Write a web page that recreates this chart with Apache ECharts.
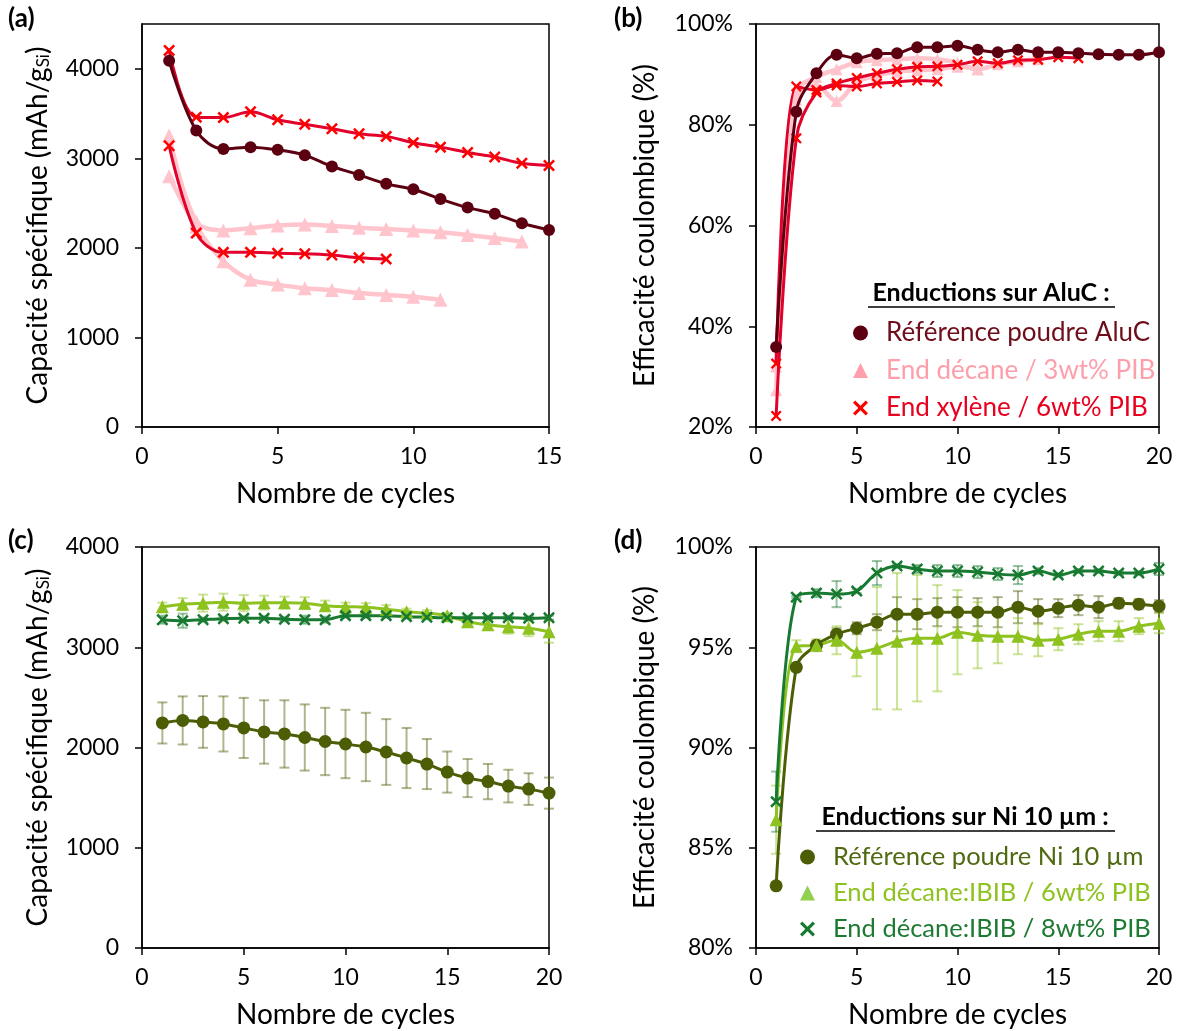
<!DOCTYPE html>
<html><head><meta charset="utf-8">
<script src="https://cdn.jsdelivr.net/npm/echarts@6/dist/echarts.min.js"></script>
<style>html,body{margin:0;padding:0;background:#fff}#c{width:1179px;height:1031px}</style>
</head><body><div id="c"></div>
<script>
// ---------- DATA ----------
// Panel (a): capacité spécifique, AluC
const cycA_ref = [1,2,3,4,5,6,7,8,9,10,11,12,13,14,15];
const capA_ref = [4090,3310,3105,3125,3095,3035,2910,2815,2715,2655,2545,2450,2380,2275,2200];
const cycA_xyl1 = [1,2,3,4,5,6,7,8,9,10,11,12,13,14,15];
const capA_xyl1 = [4205,3460,3455,3520,3430,3380,3330,3275,3245,3175,3125,3065,3015,2945,2920];
const cycA_xyl2 = [1,2,3,4,5,6,7,8,9];
const capA_xyl2 = [3140,2165,1950,1950,1940,1935,1920,1890,1875];
const cycA_dec1 = [1,2,3,4,5,6,7,8,9,10,11,12,13,14];
const capA_dec1 = [3255,2295,2195,2220,2250,2260,2245,2225,2210,2195,2175,2145,2110,2070];
const cycA_dec2 = [1,2,3,4,5,6,7,8,9,10,11];
const capA_dec2 = [2800,2240,1850,1645,1590,1550,1530,1495,1475,1455,1420];

// Panel (b): efficacité coulombique, AluC (%)
const cycB_ref = [1,2,3,4,5,6,7,8,9,10,11,12,13,14,15,16,17,18,19,20];
const ceB_ref = [35.9,82.6,90.2,93.9,93.2,94.1,94.2,95.4,95.4,95.7,94.9,94.4,94.9,94.4,94.4,94.2,94.0,93.9,93.9,94.4];
const cycB_xyl1 = [1,2,3,4,5,6,7,8,9,10,11,12,13,14,15,16];
const ceB_xyl1 = [22.2,77.3,86.4,88.2,89.3,90.2,91.0,91.5,91.6,91.9,92.6,92.2,92.8,92.9,93.4,93.2];
const cycB_xyl2 = [1,2,3,4,5,6,7,8,9];
const ceB_xyl2 = [32.6,87.6,86.9,87.8,87.6,88.2,88.5,88.8,88.6];
const cycB_dec1 = [1,2,3,4,5,6,7,8,9,10,11,12,13,14];
const ceB_dec1 = [32.0,86.5,89.5,91.0,92.4,92.8,93.0,93.2,93.0,92.3,91.0,92.0,92.6,93.0];
const cycB_dec2 = [1,2,3,4,5,6,7,8,9,10,11];
const ceB_dec2 = [27.3,85.0,87.8,84.7,88.5,89.8,90.5,90.8,91.0,91.5,91.0];

// Panel (c): capacité spécifique, Ni 10 µm (moyenne, écart)
const cycNi = [1,2,3,4,5,6,7,8,9,10,11,12,13,14,15,16,17,18,19,20];
const capC_ref = [2245,2270,2255,2235,2195,2155,2135,2100,2060,2035,2005,1955,1895,1835,1755,1695,1660,1615,1585,1545];
const capC_refErr = [205,240,258,275,300,316,336,330,336,341,341,328,300,250,205,190,176,163,158,155];
const capC_6 = [3405,3430,3440,3450,3440,3445,3445,3440,3415,3405,3400,3380,3355,3340,3315,3255,3225,3205,3190,3155];
const capC_6Err = [40,60,85,85,80,70,60,60,50,40,40,40,30,30,30,40,50,70,80,110];
const capC_8 = [3275,3265,3275,3285,3290,3290,3280,3275,3275,3315,3315,3315,3305,3300,3295,3295,3295,3295,3290,3295];
const capC_8Err = [40,70,20,20,20,20,20,40,30,20,20,20,20,20,20,20,20,20,20,20];

// Panel (d): efficacité coulombique, Ni 10 µm (%)
const ceD_ref = [83.1,94.0,95.1,95.65,95.95,96.25,96.65,96.65,96.75,96.75,96.75,96.75,97.0,96.8,96.95,97.1,97.0,97.2,97.15,97.05];
const ceD_refErr = [0.1,0.2,0.2,0.3,0.3,0.4,0.85,0.75,0.7,0.75,0.7,0.75,0.8,0.6,0.45,0.5,0.55,0.25,0.25,0.3];
const ceD_6 = [86.4,95.05,95.1,95.35,94.75,94.95,95.3,95.45,95.45,95.75,95.6,95.55,95.55,95.35,95.4,95.65,95.8,95.8,96.05,96.2];
const ceD_6Err = [1.7,0.3,0.3,0.7,1.2,3.05,3.4,3.15,2.65,2.1,1.65,1.35,0.9,0.8,0.55,0.5,0.5,0.5,0.4,0.5];
const ceD_8 = [87.3,97.5,97.7,97.65,97.8,98.7,99.05,98.9,98.8,98.8,98.75,98.65,98.6,98.8,98.6,98.8,98.8,98.7,98.7,98.9];
const ceD_8Err = [1.5,0.05,0.2,0.65,0.1,0.6,0.1,0.2,0.3,0.3,0.3,0.3,0.45,0.15,0.1,0.1,0.1,0.1,0.1,0.3];

// Tick labels
const capTicksA = [0,1000,2000,3000,4000];
const nameAluRef = 'Référence poudre AluC';
const nameAluDec = 'End décane / 3wt% PIB';
const nameAluXyl = 'End xylène / 6wt% PIB';
const nameNiRef = 'Référence poudre Ni 10 µm';
const nameNi6 = 'End décane:IBIB / 6wt% PIB';
const nameNi8 = 'End décane:IBIB / 8wt% PIB';

// ---------- STYLE ----------
const FF = 'Lato, "Open Sans", sans-serif';
const CROSS = 'path://M0,1.5L1.5,0L5,3.5L8.5,0L10,1.5L6.5,5L10,8.5L8.5,10L5,6.5L1.5,10L0,8.5L3.5,5Z';
const C_REF = '#5c0011', C_DEC = '#ffc4cc', C_XYL_L = '#e3002b', C_XYL_M = '#ff0000';
const C_NIREF = '#4b5e05', C_NI6 = '#8dc21f', C_NI8 = '#187a30';

const zip = (xs, ys) => xs.map((x, i) => [x, ys[i]]);
const zip3 = (xs, ys, es) => xs.map((x, i) => [x, ys[i], es[i]]);

function xAx(grid, max) {
  return {
    type: 'value', gridIndex: grid, min: 0, max: max, interval: 5,
    name: 'Nombre de cycles', nameLocation: 'middle', nameGap: 53,
    nameTextStyle: {fontSize: 28, color: '#000', fontFamily: FF},
    axisLine: {show: true, onZero: false, lineStyle: {color: '#000', width: 1.5}},
    axisTick: {show: true, inside: false, length: 7, lineStyle: {color: '#000', width: 1.5}},
    axisLabel: {fontSize: 23, color: '#000', fontFamily: FF, margin: 18},
    splitLine: {show: false}
  };
}
function yAx(grid, min, max, interval, name, gap, fmt, custom) {
  const o = {
    type: 'value', gridIndex: grid, min: min, max: max, interval: interval,
    name: name, nameLocation: 'middle', nameGap: gap,
    nameTextStyle: {fontSize: 28, color: '#000', fontFamily: FF,
      rich: {sub: {fontSize: 17, fontFamily: FF, color: '#000', verticalAlign: 'bottom', padding: [11, 0, 0, 0]}}},
    axisLine: {show: true, onZero: false, lineStyle: {color: '#000', width: 1.5}},
    axisTick: {show: true, inside: false, length: 7, lineStyle: {color: '#000', width: 1.5}},
    axisLabel: {fontSize: 23, color: '#000', fontFamily: FF, margin: 23, formatter: fmt},
    splitLine: {show: false}
  };
  if (custom) { o.axisTick.customValues = custom; o.axisLabel.customValues = custom; }
  return o;
}
function line(name, xi, yi, data, lineColor, markColor, symbol, size, width, z) {
  return {
    type: 'line', name: name, xAxisIndex: xi, yAxisIndex: yi, data: data,
    smooth: 0.35, symbol: symbol, symbolSize: size, showSymbol: true,
    lineStyle: {color: lineColor, width: width},
    itemStyle: {color: markColor, opacity: 1}, z: z || 3, animation: false
  };
}
function errBars(name, xi, yi, data, color) {
  return {
    type: 'custom', name: name, xAxisIndex: xi, yAxisIndex: yi, data: data, z: 2, animation: false,
    renderItem: function (params, api) {
      const x = api.value(0), y = api.value(1), e = api.value(2);
      const t = api.coord([x, y + e]), b = api.coord([x, y - e]);
      const st = {stroke: color, lineWidth: 2};
      return {type: 'group', children: [
        {type: 'line', shape: {x1: t[0], y1: t[1], x2: b[0], y2: b[1]}, style: st},
        {type: 'line', shape: {x1: t[0] - 5, y1: t[1], x2: t[0] + 5, y2: t[1]}, style: st},
        {type: 'line', shape: {x1: b[0] - 5, y1: b[1], x2: b[0] + 5, y2: b[1]}, style: st}
      ]};
    }
  };
}
const pct = v => v + '%';
const plain = v => String(v);
const capName = 'Capacité spécifique (mAh/g{sub|Si})';
const ceName = 'Efficacité coulombique (%)';

const legendBase = {
  orient: 'vertical', itemWidth: 15, itemHeight: 15, selectedMode: false,
  textStyle: {fontFamily: FF, padding: [0, 0, 0, 13]}
};

const option = {
  backgroundColor: '#fff',
  animation: false,
  grid: [
    {left: 142, top: 24, width: 407, height: 403, show: true, borderColor: '#000', borderWidth: 1.5},
    {left: 756, top: 24, width: 403, height: 403, show: true, borderColor: '#000', borderWidth: 1.5},
    {left: 142, top: 547, width: 407, height: 401, show: true, borderColor: '#000', borderWidth: 1.5},
    {left: 756, top: 547, width: 403, height: 401, show: true, borderColor: '#000', borderWidth: 1.5}
  ],
  xAxis: [xAx(0, 15), xAx(1, 20), xAx(2, 20), xAx(3, 20)],
  yAxis: [
    yAx(0, 0, 4500, 500, capName, 90, plain, capTicksA),
    yAx(1, 20, 100, 20, ceName, 97, pct),
    yAx(2, 0, 4000, 1000, capName, 90, plain),
    yAx(3, 80, 100, 5, ceName, 97, pct)
  ],
  legend: [
    Object.assign({}, legendBase, {left: 848, top: 315, itemGap: 11.5,
      textStyle: Object.assign({}, legendBase.textStyle, {fontSize: 26}),
      data: [
        {name: nameAluRef, icon: 'circle', itemStyle: {color: C_REF}, textStyle: {color: '#6e0e1a'}},
        {name: nameAluDec, icon: 'triangle', itemStyle: {color: '#ff9fab'}, textStyle: {color: '#ff9eab'}},
        {name: nameAluXyl, icon: CROSS, itemStyle: {color: C_XYL_M}, textStyle: {color: '#e8001e'}}
      ]}),
    Object.assign({}, legendBase, {left: 795, top: 839, itemGap: 10,
      textStyle: Object.assign({}, legendBase.textStyle, {fontSize: 25.5}),
      data: [
        {name: nameNiRef, icon: 'circle', itemStyle: {color: C_NIREF}, textStyle: {color: '#4f6a10'}},
        {name: nameNi6, icon: 'triangle', itemStyle: {color: '#92d050'}, textStyle: {color: '#8dc21f'}},
        {name: nameNi8, icon: CROSS, itemStyle: {color: C_NI8}, textStyle: {color: '#1e7a33'}}
      ]})
  ],
  graphic: [
    {type: 'text', left: 8, top: 6, style: {text: '(a)', font: 'bold 26px ' + FF, fill: '#000'}},
    {type: 'text', left: 614, top: 6, style: {text: '(b)', font: 'bold 26px ' + FF, fill: '#000'}},
    {type: 'text', left: 8, top: 528, style: {text: '(c)', font: 'bold 26px ' + FF, fill: '#000'}},
    {type: 'text', left: 614, top: 528, style: {text: '(d)', font: 'bold 26px ' + FF, fill: '#000'}},
    {type: 'text', x: 991, y: 293, style: {text: 'Enductions sur AluC :', font: 'bold 25px ' + FF, fill: '#000', align: 'center', verticalAlign: 'middle'}},
    {type: 'line', shape: {x1: 868, y1: 307, x2: 1115, y2: 307}, style: {stroke: '#000', lineWidth: 1.5}},
    {type: 'text', x: 965, y: 817, style: {text: 'Enductions sur Ni 10 µm :', font: 'bold 25px ' + FF, fill: '#000', align: 'center', verticalAlign: 'middle'}},
    {type: 'line', shape: {x1: 816, y1: 831, x2: 1115, y2: 831}, style: {stroke: '#000', lineWidth: 1.5}}
  ],
  series: [
    // (a)
    line(nameAluDec, 0, 0, zip(cycA_dec1, capA_dec1), C_DEC, C_DEC, 'triangle', 14, 4.5, 2),
    line(nameAluDec, 0, 0, zip(cycA_dec2, capA_dec2), C_DEC, C_DEC, 'triangle', 14, 4.5, 2),
    line(nameAluXyl, 0, 0, zip(cycA_xyl1, capA_xyl1), C_XYL_L, C_XYL_M, CROSS, 12, 3, 3),
    line(nameAluXyl, 0, 0, zip(cycA_xyl2, capA_xyl2), C_XYL_L, C_XYL_M, CROSS, 12, 3, 3),
    line(nameAluRef, 0, 0, zip(cycA_ref, capA_ref), C_REF, C_REF, 'circle', 12, 3, 4),
    // (b)
    line(nameAluDec, 1, 1, zip(cycB_dec1, ceB_dec1), C_DEC, C_DEC, 'triangle', 12, 4.5, 2),
    line(nameAluDec, 1, 1, zip(cycB_dec2, ceB_dec2), C_DEC, C_DEC, 'triangle', 12, 4.5, 2),
    line(nameAluXyl, 1, 1, zip(cycB_xyl1, ceB_xyl1), C_XYL_L, C_XYL_M, CROSS, 11, 3, 3),
    line(nameAluXyl, 1, 1, zip(cycB_xyl2, ceB_xyl2), C_XYL_L, C_XYL_M, CROSS, 11, 3, 3),
    line(nameAluRef, 1, 1, zip(cycB_ref, ceB_ref), C_REF, C_REF, 'circle', 12, 3, 4),
    // (c)
    errBars('errC_ref', 2, 2, zip3(cycNi, capC_ref, capC_refErr), 'rgba(75,94,5,0.45)'),
    errBars('errC_6', 2, 2, zip3(cycNi, capC_6, capC_6Err), 'rgba(141,194,31,0.45)'),
    errBars('errC_8', 2, 2, zip3(cycNi, capC_8, capC_8Err), 'rgba(24,122,48,0.45)'),
    line(nameNiRef, 2, 2, zip(cycNi, capC_ref), C_NIREF, C_NIREF, 'circle', 13, 3, 3),
    line(nameNi6, 2, 2, zip(cycNi, capC_6), C_NI6, C_NI6, 'triangle', 13, 3, 3),
    line(nameNi8, 2, 2, zip(cycNi, capC_8), C_NI8, C_NI8, CROSS, 12, 3, 3),
    // (d)
    errBars('errD_ref', 3, 3, zip3(cycNi, ceD_ref, ceD_refErr), 'rgba(75,94,5,0.45)'),
    errBars('errD_6', 3, 3, zip3(cycNi, ceD_6, ceD_6Err), 'rgba(141,194,31,0.45)'),
    errBars('errD_8', 3, 3, zip3(cycNi, ceD_8, ceD_8Err), 'rgba(24,122,48,0.45)'),
    line(nameNiRef, 3, 3, zip(cycNi, ceD_ref), C_NIREF, C_NIREF, 'circle', 13, 3, 3),
    line(nameNi6, 3, 3, zip(cycNi, ceD_6), C_NI6, C_NI6, 'triangle', 13, 3, 3),
    line(nameNi8, 3, 3, zip(cycNi, ceD_8), C_NI8, C_NI8, CROSS, 12, 3, 3)
  ]
};
const chart = echarts.init(document.getElementById('c'), null, {renderer: 'canvas'});
chart.setOption(option);
</script></body></html>
